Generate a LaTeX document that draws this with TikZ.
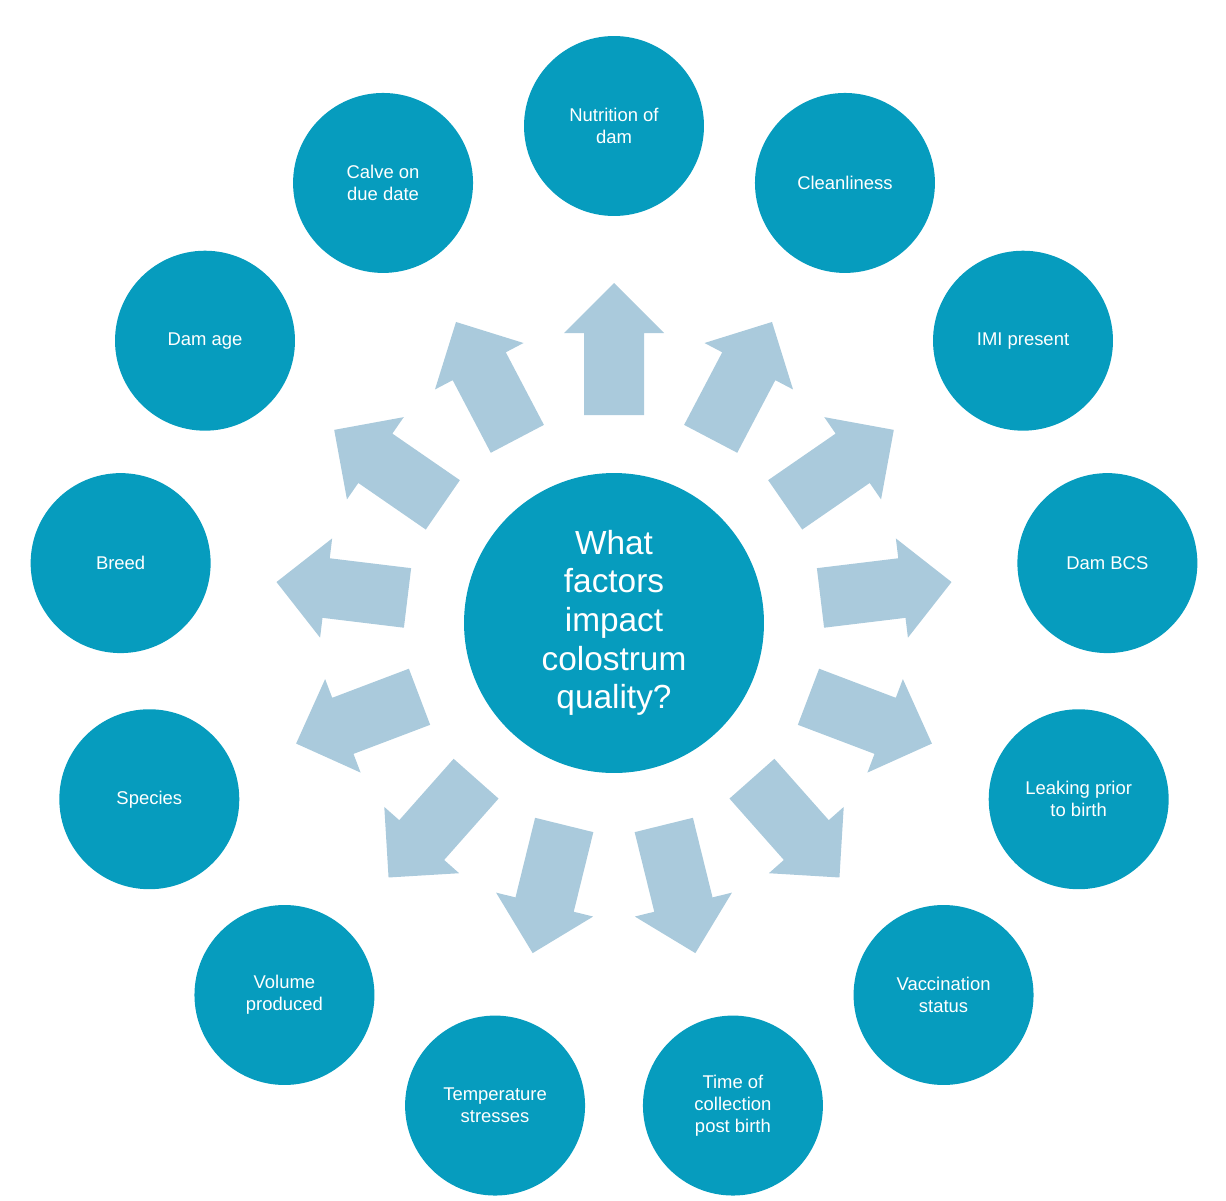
\documentclass[tikz,border=0pt]{standalone}
\usepackage{fontspec}
\setmainfont{Liberation Sans}
\definecolor{teal}{RGB}{6,156,190}
\definecolor{light}{RGB}{170,202,220}
\begin{document}
\begin{tikzpicture}[x=0.02cm,y=-0.02cm,
  outer/.style={circle,fill=teal,minimum size=3.6cm,inner sep=0pt,text=white,align=center,font=\fontsize{10.5}{12.5}\selectfont},
  centre/.style={circle,fill=teal,minimum size=6cm,inner sep=0pt,text=white,align=center,font=\fontsize{19}{22}\selectfont},
  arr/.style={fill=light}]
\useasboundingbox (0,0) rectangle (1226,1200);
\node[centre] (c) at (614,623) {What\\factors\\impact\\colostrum\\quality?};
\foreach \i/\t in {0/{Nutrition of\\dam},1/{Cleanliness},2/{IMI present},3/{Dam BCS},4/{Leaking prior\\to birth},5/{Vaccination\\status},6/{Time of\\collection\\post birth},7/{Temperature\\stresses},8/{Volume\\produced},9/{Species},10/{Breed},11/{Dam age},12/{Calve on\\due date}}{
  \pgfmathsetmacro{\a}{90-\i*360/13}
  \pgfmathsetmacro{\px}{614+497*cos(\a)}
  \pgfmathsetmacro{\py}{623-497*sin(\a)}
  \node[outer] (o\i) at (\px,\py) {\t};
  \begin{scope}[shift={(614,623)},rotate=\a]
    \fill[arr] (208,-30) -- (290,-30) -- (290,-50) -- (340,0) -- (290,50) -- (290,30) -- (208,30) -- cycle;
  \end{scope}
}
\end{tikzpicture}
\end{document}
